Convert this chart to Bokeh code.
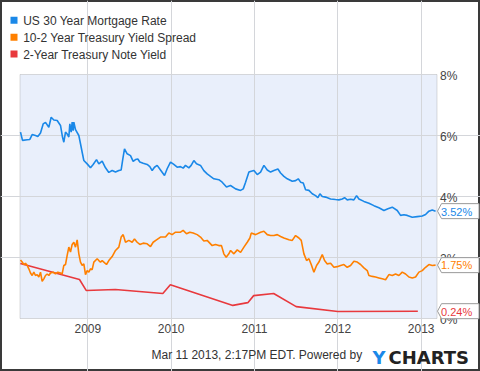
from bokeh.plotting import figure
from bokeh.models import Range1d, FixedTicker, Grid, BoxAnnotation
from bokeh.core.properties import value
from bokeh.embed import file_html
from bokeh.resources import INLINE

# ---------------- data (decimal years, percent) ----------------
mort_years = [2008.192, 2008.216, 2008.272, 2008.304, 2008.332, 2008.372, 2008.400, 2008.432, 2008.464, 2008.492,
              2008.532, 2008.560, 2008.592, 2008.632, 2008.672, 2008.696, 2008.712, 2008.732, 2008.752, 2008.772,
              2008.784, 2008.800, 2008.812, 2008.824, 2008.832, 2008.852, 2008.892, 2008.912, 2008.932, 2008.952,
              2008.992, 2009.032, 2009.064, 2009.104, 2009.132, 2009.172, 2009.212, 2009.252, 2009.292, 2009.332,
              2009.372, 2009.400, 2009.420, 2009.440, 2009.472, 2009.512, 2009.544, 2009.572, 2009.600, 2009.624,
              2009.664, 2009.712, 2009.744, 2009.772, 2009.800, 2009.832, 2009.872, 2009.920, 2009.952, 2009.992,
              2010.032, 2010.072, 2010.112, 2010.144, 2010.172, 2010.212, 2010.240, 2010.272, 2010.304, 2010.352,
              2010.392, 2010.432, 2010.472, 2010.512, 2010.572, 2010.612, 2010.664, 2010.712, 2010.773, 2010.833,
              2010.865, 2010.893, 2010.933, 2010.961, 2010.993, 2011.033, 2011.073, 2011.113, 2011.153, 2011.193,
              2011.233, 2011.281, 2011.313, 2011.353, 2011.393, 2011.453, 2011.493, 2011.525, 2011.553, 2011.585,
              2011.613, 2011.653, 2011.693, 2011.733, 2011.761, 2011.785, 2011.813, 2011.853, 2011.913, 2011.973,
              2012.013, 2012.053, 2012.081, 2012.113, 2012.153, 2012.193, 2012.225, 2012.253, 2012.313, 2012.373,
              2012.433, 2012.493, 2012.553, 2012.601, 2012.653, 2012.713, 2012.753, 2012.793, 2012.833, 2012.893,
              2012.953, 2013.013, 2013.053, 2013.093, 2013.133, 2013.173]
mort_vals = [6.11, 5.84, 5.86, 5.87, 6.03, 6.00, 5.97, 6.08, 6.38, 6.43,
             6.27, 6.60, 6.51, 6.49, 6.33, 5.95, 5.78, 6.11, 6.05, 5.95,
             6.38, 6.11, 6.44, 6.16, 6.44, 6.19, 6.00, 5.73, 5.45, 5.18,
             5.07, 4.94, 5.05, 5.21, 5.07, 5.16, 4.94, 4.79, 4.85, 4.80,
             4.85, 4.87, 5.23, 5.56, 5.40, 5.34, 5.15, 5.21, 5.23, 5.13,
             5.09, 5.05, 4.98, 4.85, 4.96, 5.02, 4.87, 4.69, 4.91, 5.13,
             5.05, 4.96, 4.98, 4.93, 5.02, 4.94, 5.02, 5.18, 5.07, 5.02,
             4.85, 4.74, 4.66, 4.58, 4.55, 4.47, 4.31, 4.36, 4.25, 4.20,
             4.25, 4.47, 4.80, 4.83, 4.85, 4.72, 4.80, 5.02, 4.87, 4.80,
             4.85, 4.90, 4.77, 4.66, 4.58, 4.50, 4.52, 4.58, 4.47, 4.44,
             4.22, 4.20, 4.09, 4.03, 3.96, 4.09, 4.00, 3.98, 3.92, 3.90,
             3.89, 3.92, 3.96, 3.89, 3.91, 3.89, 4.03, 3.92, 3.84, 3.78,
             3.70, 3.63, 3.54, 3.60, 3.65, 3.54, 3.38, 3.40, 3.38, 3.32,
             3.34, 3.36, 3.41, 3.52, 3.56, 3.52]

spread_years = [2008.192, 2008.212, 2008.232, 2008.252, 2008.272, 2008.292, 2008.312, 2008.332, 2008.352, 2008.372,
                2008.392, 2008.412, 2008.432, 2008.452, 2008.472, 2008.492, 2008.512, 2008.532, 2008.552, 2008.584,
                2008.612, 2008.640, 2008.672, 2008.692, 2008.712, 2008.732, 2008.752, 2008.772, 2008.792, 2008.812,
                2008.832, 2008.852, 2008.872, 2008.892, 2008.912, 2008.932, 2008.952, 2008.972, 2008.992, 2009.012,
                2009.032, 2009.052, 2009.072, 2009.112, 2009.132, 2009.152, 2009.172, 2009.192, 2009.224, 2009.252,
                2009.292, 2009.332, 2009.372, 2009.400, 2009.424, 2009.452, 2009.492, 2009.532, 2009.560, 2009.592,
                2009.624, 2009.664, 2009.712, 2009.752, 2009.784, 2009.824, 2009.872, 2009.932, 2009.972, 2010.012,
                2010.052, 2010.112, 2010.144, 2010.184, 2010.224, 2010.264, 2010.312, 2010.352, 2010.392, 2010.432,
                2010.492, 2010.532, 2010.572, 2010.604, 2010.632, 2010.660, 2010.692, 2010.713, 2010.753, 2010.793,
                2010.833, 2010.873, 2010.913, 2010.945, 2010.961, 2011.013, 2011.073, 2011.113, 2011.153, 2011.193,
                2011.233, 2011.273, 2011.313, 2011.353, 2011.413, 2011.453, 2011.493, 2011.533, 2011.561, 2011.593,
                2011.625, 2011.653, 2011.681, 2011.713, 2011.745, 2011.773, 2011.813, 2011.841, 2011.873, 2011.913,
                2011.953, 2011.993, 2012.033, 2012.073, 2012.113, 2012.153, 2012.193, 2012.233, 2012.273, 2012.313,
                2012.353, 2012.373, 2012.413, 2012.453, 2012.493, 2012.533, 2012.573, 2012.613, 2012.653, 2012.693,
                2012.733, 2012.773, 2012.813, 2012.853, 2012.893, 2012.933, 2012.973, 2013.013, 2013.053, 2013.093,
                2013.133, 2013.173]
spread_vals = [1.92, 1.85, 1.77, 1.81, 1.74, 1.63, 1.49, 1.41, 1.52, 1.41,
               1.44, 1.36, 1.52, 1.22, 1.30, 1.41, 1.46, 1.41, 1.49, 1.52,
               1.46, 1.52, 1.49, 1.46, 1.74, 1.77, 2.07, 2.34, 2.18, 2.43,
               2.50, 2.34, 2.58, 2.12, 1.85, 1.74, 1.79, 1.44, 1.57, 1.52,
               1.63, 1.60, 1.85, 1.96, 1.90, 1.85, 1.90, 1.85, 1.77, 1.90,
               2.03, 2.23, 2.34, 2.67, 2.75, 2.50, 2.56, 2.50, 2.61, 2.50,
               2.43, 2.47, 2.45, 2.36, 2.50, 2.58, 2.67, 2.67, 2.80, 2.75,
               2.83, 2.83, 2.89, 2.78, 2.83, 2.80, 2.75, 2.67, 2.54, 2.56,
               2.39, 2.43, 2.39, 2.39, 2.12, 2.01, 2.12, 2.23, 2.12, 2.25,
               2.17, 2.34, 2.50, 2.64, 2.80, 2.75, 2.83, 2.86, 2.75, 2.72,
               2.72, 2.75, 2.69, 2.64, 2.58, 2.56, 2.72, 2.64, 2.56, 2.12,
               1.90, 1.96, 1.77, 1.52, 1.74, 1.85, 2.10, 1.90, 1.79, 1.81,
               1.68, 1.70, 1.74, 1.77, 1.68, 1.74, 1.88, 1.85, 1.77, 1.66,
               1.57, 1.41, 1.38, 1.36, 1.33, 1.30, 1.27, 1.44, 1.41, 1.46,
               1.41, 1.52, 1.46, 1.36, 1.33, 1.36, 1.52, 1.57, 1.68, 1.77,
               1.74, 1.75]

note_years = [2008.19, 2008.90, 2008.98, 2009.33, 2009.90, 2009.99, 2010.74, 2010.92, 2010.99,
              2011.23, 2011.50, 2012.00, 2012.96]
note_vals = [1.80, 1.28, 0.92, 0.95, 0.82, 1.11, 0.43, 0.52, 0.75, 0.82, 0.39, 0.23, 0.24]

series_names = ["US 30 Year Mortgage Rate", "10-2 Year Treasury Yield Spread", "2-Year Treasury Note Yield"]
series_colors = ["#1a88e8", "#ff8000", "#e8393d"]
last_labels = ["3.52%", "1.75%", "0.24%"]
last_values = [3.52, 1.75, 0.24]
year_ticks = [2009, 2010, 2011, 2012, 2013]
pct_ticks = [0, 2, 4, 6, 8]
footer_text = "Mar 11 2013, 2:17PM EDT.  Powered by"
x_start, x_end = 2008.186, 2013.19
y_start, y_end = 0, 8

# ---------------- layout (pixels inside the 480 x 371 canvas) ----------------
W, H = 480, 371
L, R, T, B = 19.5, 436.5, 74.0, 318.0          # plot area
SX = (R - L) / (x_end - x_start)              # px per year
SY = (B - T) / (y_end - y_start)              # px per percent
X0 = x_start - L / SX
X1 = x_start + (W - L) / SX
Y1 = y_end + T / SY
Y0 = y_end - (H - T) / SY
K = 0.33                                      # baseline correction (fraction of font size)


def fx(px):
    return X0 + px / SX


def fy(py):
    return Y1 - py / SY


def fbase(py, size):
    # data y for a text whose alphabetic baseline should sit at pixel row py
    return fy(py - K * size)


FONT = "Liberation Sans"
TEXT = "#333333"

p = figure(width=W, height=H, output_backend="svg", toolbar_location=None,
           x_range=Range1d(X0, X1), y_range=Range1d(Y0, Y1),
           x_axis_location=None, y_axis_location=None,
           min_border=0, min_border_left=0, min_border_right=0, min_border_top=0, min_border_bottom=0)
p.background_fill_color = "white"
p.border_fill_color = "white"
p.outline_line_color = "#3a3a3a"
p.outline_line_width = 3
p.grid.visible = False

# plot area background + outline
p.add_layout(BoxAnnotation(left=x_start, right=x_end, bottom=y_start, top=y_end,
                           fill_color="#e9effb", fill_alpha=1, line_color="#8a8a8a", line_width=1,
                           level="underlay"))
p.add_layout(Grid(dimension=0, ticker=FixedTicker(ticks=year_ticks), bounds=(y_start, y_end),
                  grid_line_color="#d4d6da", grid_line_width=1))
p.add_layout(Grid(dimension=1, ticker=FixedTicker(ticks=[t for t in pct_ticks if y_start < t < y_end]),
                  bounds=(x_start, x_end), grid_line_color="#d4d6da", grid_line_width=1))

# series
p.line(note_years, note_vals, line_color=series_colors[2], line_width=1.6)
p.line(spread_years, spread_vals, line_color=series_colors[1], line_width=1.6)
p.line(mort_years, mort_vals, line_color=series_colors[0], line_width=1.6)

# tick labels
p.text(x=year_ticks, y=[fbase(B + 13.7, 12)] * len(year_ticks), text=[str(t) for t in year_ticks],
       text_font=value(FONT), text_font_size=value("12px"), text_color="#444444",
       text_align="center", text_baseline="alphabetic")
p.text(x=[fx(R + 3)] * len(pct_ticks), y=[t - (5.3 - K * 12) / SY for t in pct_ticks],
       text=["%d%%" % t for t in pct_ticks],
       text_font=value(FONT), text_font_size=value("12px"), text_color="#444444",
       text_align="left", text_baseline="alphabetic")

# last-value tags (pointed boxes)
tag_xs, tag_ys = [], []
for v in last_values:
    tag_xs.append([fx(R + 0.5), fx(R + 4.5), fx(W - 1.5), fx(W - 1.5), fx(R + 4.5)])
    tag_ys.append([v, v + 7.5 / SY, v + 7.5 / SY, v - 7.5 / SY, v - 7.5 / SY])
p.patches(tag_xs, tag_ys, fill_color="white", line_color="#9a9a9a", line_width=1)
p.text(x=[fx(R + 4)] * 3, y=[v - (4.0 - K * 11) / SY for v in last_values], text=last_labels,
       text_color=series_colors, text_font=value(FONT), text_font_size=value("11px"),
       text_align="left", text_baseline="alphabetic")

# legend
leg_base = [24.3, 41.3, 58.0]
p.scatter(x=[fx(13.5)] * 3, y=[fy(b - 4.5) for b in leg_base], marker="square", size=7,
          fill_color=series_colors, line_color=None)
p.text(x=[fx(22.7)] * 3, y=[fbase(b, 12) for b in leg_base], text=series_names,
       text_font=value(FONT), text_font_size=value("12px"), text_color=TEXT,
       text_align="left", text_baseline="alphabetic")

# footer
p.text(x=[fx(365)], y=[fbase(358.7, 12)], text=[footer_text], text_font=value(FONT),
       text_font_size=value("12px"), text_color=TEXT, text_align="right", text_baseline="alphabetic")
p.text(x=[fx(372)], y=[fbase(363.3, 18)], text=["Y"], text_font=value("DejaVu Sans"),
       text_font_style="bold", text_font_size=value("18px"), text_color="#1a88e8",
       text_align="left", text_baseline="alphabetic")
p.text(x=[fx(388)], y=[fbase(363.3, 18)], text=["CHARTS"], text_font=value("DejaVu Sans"),
       text_font_style="bold", text_font_size=value("18px"), text_color="#222222",
       text_align="left", text_baseline="alphabetic")

open("out.html", "w").write(file_html(p, INLINE))
